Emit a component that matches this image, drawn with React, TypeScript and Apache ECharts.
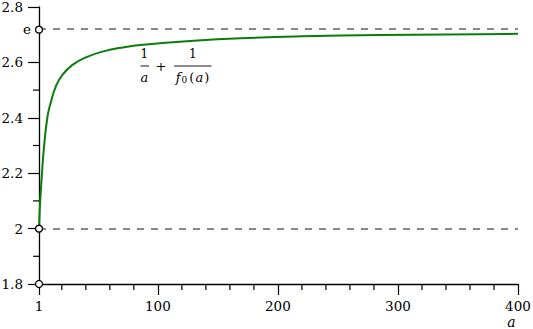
import React, { useEffect, useRef } from "react";
import * as echarts from "echarts";

const E = 2.718281828;
const aValues = [1, 1.5, 2.2, 3.5, 5.2, 8, 10.8, 14.9, 20.5, 28.9, 40, 53.9, 71.9, 88, 130, 169, 220, 285, 340, 400];
const gValues = [2.0, 2.055, 2.114, 2.2, 2.296, 2.402, 2.455, 2.512, 2.555, 2.591, 2.618, 2.639, 2.655, 2.664, 2.678, 2.687, 2.694, 2.699, 2.701, 2.703];
const xMajorTicks = [1, 100, 200, 300, 400];
const xMinorTicks = [20, 40, 60, 80, 120, 140, 160, 180, 220, 240, 260, 280, 320, 340, 360, 380];
const yMinorTicks = [1.9, 2.1, 2.3, 2.5];
const markerY = [E, 2, 1.8];
const refLines = [E, 2];

const FONT = "DejaVu Serif";
const TICK_FS = 13.5;

export default function App() {
  const ref = useRef<HTMLDivElement>(null);
  useEffect(() => {
    document.body.style.margin = "0";
    const chart = echarts.init(ref.current!, undefined, { renderer: "svg" });
    chart.setOption({
      animation: false,
      backgroundColor: "#fff",
      textStyle: { fontFamily: FONT },
      grid: { left: 39, right: 15, top: 7, height: 277, containLabel: false, outerBoundsMode: "none" },
      xAxis: {
        type: "value",
        min: 1,
        max: 400,
        axisLine: { show: true, lineStyle: { color: "#000", width: 1.3 } },
        axisTick: { show: true, customValues: xMajorTicks, length: 11, lineStyle: { color: "#000", width: 1.2 } },
        axisLabel: { customValues: xMajorTicks, margin: 15, color: "#000", fontSize: TICK_FS, fontFamily: FONT },
        splitLine: { show: false },
      },
      yAxis: {
        type: "value",
        min: 1.8,
        max: 2.8,
        interval: 0.2,
        axisLine: { show: true, lineStyle: { color: "#000", width: 1.3 } },
        axisTick: { show: true, length: 11, lineStyle: { color: "#000", width: 1.2 } },
        axisLabel: {
          margin: 16,
          color: "#000",
          fontSize: TICK_FS,
          fontFamily: FONT,
          formatter: (v: number) => String(Math.round(v * 10) / 10),
        },
        splitLine: { show: false },
      },
      series: [
        {
          type: "line",
          data: aValues.map((a, i) => [a, gValues[i]]),
          smooth: true,
          showSymbol: false,
          lineStyle: { color: "#0b7d0b", width: 2 },
          z: 3,
          markLine: {
            silent: true,
            symbol: ["none", "none"],
            lineStyle: { color: "#888", type: [7, 7], width: 1.8 },
            data: refLines.map((y, i) => ({
              yAxis: y,
              label: i === 0
                ? { show: true, position: "start", formatter: "e", distance: 8, color: "#000", fontSize: TICK_FS, fontFamily: FONT }
                : { show: false },
            })),
          },
        },
        {
          type: "scatter",
          data: xMinorTicks.map((x) => [x, 1.8]),
          symbol: "rect",
          symbolSize: [1.2, 6],
          symbolOffset: [0, 3],
          clip: false,
          silent: true,
          itemStyle: { color: "#000", opacity: 1 },
          z: 4,
        },
        {
          type: "scatter",
          data: yMinorTicks.map((y) => [1, y]),
          symbol: "rect",
          symbolSize: [6, 1.2],
          symbolOffset: [-3, 0],
          clip: false,
          silent: true,
          itemStyle: { color: "#000", opacity: 1 },
          z: 4,
        },
        {
          type: "scatter",
          data: markerY.map((y) => [1, y]),
          symbol: "circle",
          symbolSize: 7,
          clip: false,
          itemStyle: { color: "#fff", borderColor: "#000", borderWidth: 1.3, opacity: 1 },
          z: 6,
        },
      ],
      graphic: [
        { type: "text", x: 511.5, y: 321.5, style: { text: "a", fontSize: 14, fontStyle: "italic", fontFamily: FONT, fill: "#000", align: "center", verticalAlign: "middle" } },
        { type: "text", x: 144.3, y: 53.5, style: { text: "1", fontSize: 12, fontFamily: FONT, fill: "#000", align: "center", verticalAlign: "middle" } },
        { type: "line", shape: { x1: 140.5, y1: 66, x2: 149, y2: 66 }, style: { stroke: "#000", lineWidth: 0.9 } },
        { type: "text", x: 144.3, y: 77, style: { text: "a", fontSize: 13, fontStyle: "italic", fontFamily: FONT, fill: "#000", align: "center", verticalAlign: "middle" } },
        { type: "text", x: 161, y: 66.5, style: { text: "+", fontSize: 13, fontFamily: FONT, fill: "#000", align: "center", verticalAlign: "middle" } },
        { type: "text", x: 192.7, y: 53.5, style: { text: "1", fontSize: 12, fontFamily: FONT, fill: "#000", align: "center", verticalAlign: "middle" } },
        { type: "line", shape: { x1: 174, y1: 66, x2: 211.5, y2: 66 }, style: { stroke: "#000", lineWidth: 0.9 } },
        {
          type: "text",
          x: 193,
          y: 77,
          style: {
            text: "{i|f}{s|0}{r|(}{i|a}{r|)}",
            fontFamily: FONT,
            fill: "#000",
            align: "center",
            verticalAlign: "middle",
            rich: {
              i: { fontSize: 13, fontStyle: "italic", fontFamily: FONT, fill: "#000" },
              s: { fontSize: 9, fontFamily: FONT, fill: "#000", padding: [6, 1, 0, 1] },
              r: { fontSize: 13, fontFamily: FONT, fill: "#000", padding: [0, 1, 0, 1] },
            },
          },
        },
      ],
    });
    return () => chart.dispose();
  }, []);
  return <div ref={ref} style={{ width: 533, height: 329, position: "absolute", left: 0, top: 0 }} />;
}
